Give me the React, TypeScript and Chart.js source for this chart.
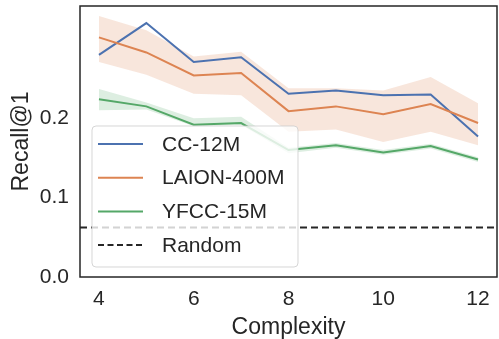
import React, { useEffect, useRef } from "react";
import { Chart, registerables } from "chart.js";

Chart.register(...registerables);

const complexity = [4, 5, 6, 7, 8, 9, 10, 11, 12];
const seriesNames = ["CC-12M", "LAION-400M", "YFCC-15M"];
const cc12m = [0.28, 0.32, 0.271, 0.277, 0.231, 0.235, 0.229, 0.23, 0.177];
const laion = [0.302, 0.283, 0.254, 0.257, 0.209, 0.215, 0.205, 0.218, 0.194];
const laionUpper = [0.329, 0.311, 0.278, 0.284, 0.238, 0.238, 0.235, 0.252, 0.219];
const laionLower = [0.271, 0.255, 0.231, 0.229, 0.183, 0.186, 0.17, 0.183, 0.166];
const yfcc = [0.224, 0.215, 0.192, 0.194, 0.16, 0.166, 0.157, 0.165, 0.148];
const yfccUpper = [0.237, 0.22, 0.2, 0.202, 0.163, 0.169, 0.16, 0.168, 0.151];
const yfccLower = [0.21, 0.211, 0.19, 0.192, 0.156, 0.163, 0.154, 0.162, 0.145];
const randomLevel = 0.0625;
const randomLabel = "Random";
const xTicks = [4, 6, 8, 10, 12];
const yTicks = [0, 0.1, 0.2];
const xTitle = "Complexity";
const yTitle = "Recall@1";

const BLUE = "#4C72B0";
const ORANGE = "#DD8452";
const GREEN = "#55A868";
const TEXT = "#262626";
const FONT = "'Liberation Sans', Arial, sans-serif";

const pts = (ys: number[]) => complexity.map((x, i) => ({ x, y: ys[i] }));

export default function App() {
  const ref = useRef<HTMLCanvasElement | null>(null);
  useEffect(() => {
    if (!ref.current) return;
    const frame = {
      id: "frame",
      afterDatasetsDraw(chart: any) {
        const { ctx, chartArea: a } = chart;
        ctx.save();
        ctx.strokeStyle = TEXT;
        ctx.lineWidth = 1.5;
        ctx.strokeRect(a.left, a.top, a.right - a.left, a.bottom - a.top);
        ctx.restore();
      },
    };
    const legendBox = {
      id: "legendBox",
      afterDraw(chart: any) {
        const { ctx } = chart;
        const x0 = 92, y0 = 126, w = 206, h = 141, r = 4;
        ctx.save();
        ctx.beginPath();
        ctx.moveTo(x0 + r, y0);
        ctx.arcTo(x0 + w, y0, x0 + w, y0 + h, r);
        ctx.arcTo(x0 + w, y0 + h, x0, y0 + h, r);
        ctx.arcTo(x0, y0 + h, x0, y0, r);
        ctx.arcTo(x0, y0, x0 + w, y0, r);
        ctx.closePath();
        ctx.fillStyle = "rgba(255,255,255,0.8)";
        ctx.fill();
        ctx.strokeStyle = "rgba(204,204,204,0.8)";
        ctx.lineWidth = 1;
        ctx.stroke();
        const items = [
          { label: seriesNames[0], color: BLUE, dash: [] as number[] },
          { label: seriesNames[1], color: ORANGE, dash: [] as number[] },
          { label: seriesNames[2], color: GREEN, dash: [] as number[] },
          { label: randomLabel, color: TEXT, dash: [6, 3.5] },
        ];
        ctx.font = `21px ${FONT}`;
        ctx.textBaseline = "middle";
        ctx.textAlign = "left";
        items.forEach((it, i) => {
          const yy = 144 + i * 33.7;
          ctx.beginPath();
          ctx.setLineDash(it.dash);
          ctx.strokeStyle = it.color;
          ctx.lineWidth = 2;
          ctx.moveTo(98, yy);
          ctx.lineTo(143, yy);
          ctx.stroke();
          ctx.setLineDash([]);
          ctx.fillStyle = TEXT;
          ctx.fillText(it.label, 162, yy + 1);
        });
        ctx.restore();
      },
    };
    const chart = new Chart(ref.current, {
      type: "line",
      data: {
        datasets: [
          { label: "laionUpper", data: pts(laionUpper), borderWidth: 0, pointRadius: 0, fill: "+1", backgroundColor: "rgba(221,132,82,0.2)", order: 10 },
          { label: "laionLower", data: pts(laionLower), borderWidth: 0, pointRadius: 0, fill: false, order: 10 },
          { label: "yfccUpper", data: pts(yfccUpper), borderWidth: 0, pointRadius: 0, fill: "+1", backgroundColor: "rgba(85,168,104,0.2)", order: 10 },
          { label: "yfccLower", data: pts(yfccLower), borderWidth: 0, pointRadius: 0, fill: false, order: 10 },
          { label: randomLabel, data: [{ x: 3.6, y: randomLevel }, { x: 12.4, y: randomLevel }], borderColor: TEXT, borderWidth: 2, borderDash: [7, 4], pointRadius: 0, fill: false, order: 1 },
          { label: seriesNames[2], data: pts(yfcc), borderColor: GREEN, borderWidth: 2, pointRadius: 0, fill: false, order: 2 },
          { label: seriesNames[1], data: pts(laion), borderColor: ORANGE, borderWidth: 2, pointRadius: 0, fill: false, order: 3 },
          { label: seriesNames[0], data: pts(cc12m), borderColor: BLUE, borderWidth: 2, pointRadius: 0, fill: false, order: 4 },
        ],
      },
      options: {
        animation: false,
        responsive: true,
        maintainAspectRatio: false,
        layout: { padding: { left: 0, right: 2, top: 6, bottom: 0 } },
        plugins: { legend: { display: false }, tooltip: { enabled: false } },
        elements: { line: { tension: 0 } },
        scales: {
          x: {
            type: "linear",
            min: 3.6,
            max: 12.4,
            grid: { display: false, drawTicks: false },
            border: { display: false },
            afterBuildTicks: (s: any) => { s.ticks = xTicks.map((v) => ({ value: v })); },
            afterFit: (s: any) => { s.height = 62; s.paddingLeft = 0; s.paddingRight = 0; },
            ticks: { padding: 10, color: TEXT, font: { family: FONT, size: 21 }, callback: (v: any) => String(v), maxRotation: 0 },
            title: { display: true, text: xTitle, color: TEXT, font: { family: FONT, size: 23, lineHeight: 1 }, padding: 0 },
          },
          y: {
            type: "linear",
            min: 0,
            max: 0.3415,
            grid: { display: false, drawTicks: false },
            border: { display: false },
            afterBuildTicks: (s: any) => { s.ticks = yTicks.map((v) => ({ value: v })); },
            afterFit: (s: any) => { s.width = 80; s.paddingTop = 0; s.paddingBottom = 0; },
            ticks: { padding: 11, color: TEXT, font: { family: FONT, size: 21 }, callback: (v: any) => Number(v).toFixed(1) },
            title: { display: true, text: yTitle, color: TEXT, font: { family: FONT, size: 23, lineHeight: 1 }, padding: { top: 10, bottom: 0 } },
          },
        },
      },
      plugins: [frame, legendBox],
    } as any);
    return () => chart.destroy();
  }, []);
  return (
    <div style={{ position: "fixed", left: 0, top: 0, width: 499, height: 339, background: "#fff" }}>
      <canvas ref={ref} />
    </div>
  );
}
